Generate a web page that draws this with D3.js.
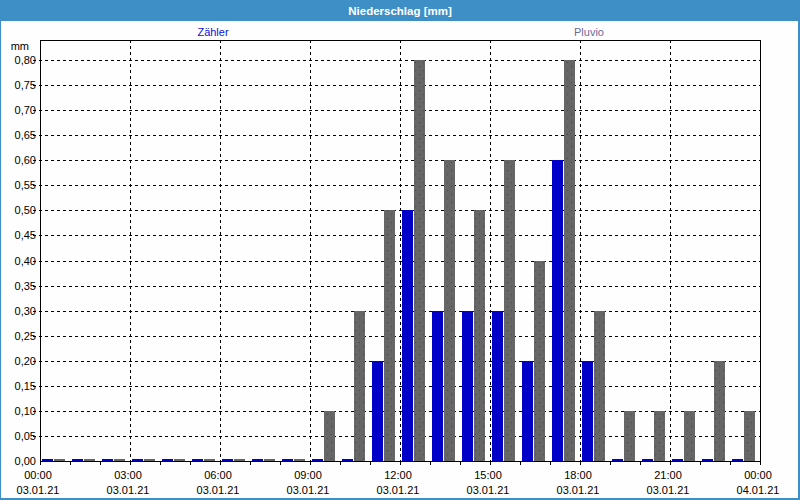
<!DOCTYPE html>
<html><head><meta charset="utf-8">
<script src="https://cdn.jsdelivr.net/npm/d3@7"></script>
<style>
html,body{margin:0;padding:0;background:#fff;}
svg{display:block;font-family:"Liberation Sans",Arial,sans-serif;}
</style></head>
<body>
<svg id="c" width="800" height="500"></svg>
<script>
// hourly slots 00..23 of 03.01.21
const hours = d3.range(0, 24);
const seriesNames = ["Zähler", "Pluvio"];
const zaehler = [0,0,0,0,0,0,0,0,0,0,0,0.20,0.50,0.30,0.30,0.30,0.20,0.60,0.20,0,0,0,0,0];
const pluvio  = [0,0,0,0,0,0,0,0,0,0.10,0.30,0.50,0.80,0.60,0.50,0.60,0.40,0.80,0.30,0.10,0.10,0.10,0.20,0.10];
const yTicks = [0,0.05,0.10,0.15,0.20,0.25,0.30,0.35,0.40,0.45,0.50,0.55,0.60,0.65,0.70,0.75,0.80];
const xTickHours = [0,3,6,9,12,15,18,21,24];
const xTimeLabels = ["00:00","03:00","06:00","09:00","12:00","15:00","18:00","21:00","00:00"];
const xDateLabels = ["03.01.21","03.01.21","03.01.21","03.01.21","03.01.21","03.01.21","03.01.21","03.01.21","04.01.21"];

const svg = d3.select("#c");
const W = 800, H = 500;
const L = 40, R = 760, T = 40, B = 461;

// window frame
svg.append("rect").attr("x",0).attr("y",0).attr("width",W).attr("height",H).attr("fill","#3d8fc6");
svg.append("rect").attr("x",1).attr("y",21).attr("width",W-3).attr("height",H-23).attr("fill","#fdfefd");
svg.append("text").attr("x",W/2).attr("y",15).attr("text-anchor","middle")
  .attr("fill","#fff").attr("font-weight","bold").attr("font-size",11.5).text("Niederschlag [mm]");

const x = d3.scaleLinear().domain([0,24]).range([L,R]);
const y = d3.scaleLinear().domain([0,0.84]).range([B,T]);
const slot = x(1) - x(0);
const inner = d3.scaleBand().domain(seriesNames).range([2, slot-5]).paddingInner(0.09);

// pattern for Pluvio bars
const defs = svg.append("defs");
const pat = defs.append("pattern").attr("id","dots").attr("patternUnits","userSpaceOnUse")
  .attr("width",8).attr("height",8);
pat.append("rect").attr("width",8).attr("height",8).attr("fill","#666666");
pat.append("rect").attr("x",3).attr("y",2).attr("width",1).attr("height",1).attr("fill","#40408a");
pat.append("rect").attr("x",7).attr("y",6).attr("width",1).attr("height",1).attr("fill","#40408a");

// grid
const g = svg.append("g");
g.selectAll("line.h").data(yTicks.filter(d=>d>0)).join("line")
  .attr("x1",L-7).attr("x2",R).attr("y1",d=>Math.round(y(d))+0.5).attr("y2",d=>Math.round(y(d))+0.5)
  .attr("stroke","#000").attr("stroke-dasharray","3,3");
g.selectAll("line.v").data(xTickHours.slice(1,-1)).join("line")
  .attr("x1",d=>Math.round(x(d))+0.5).attr("x2",d=>Math.round(x(d))+0.5).attr("y1",T).attr("y2",B+3)
  .attr("stroke","#000").attr("stroke-dasharray","3,3");

// bars
const bars = svg.append("g");
const colors = {"Zähler":"#0000c8","Pluvio":"url(#dots)"};
const data = [];
hours.forEach((h,i)=>{
  data.push({h, s:"Zähler", v:zaehler[i]});
  data.push({h, s:"Pluvio", v:pluvio[i]});
});
bars.selectAll("rect").data(data).join("rect")
  .attr("x",d=>Math.round(x(d.h)+inner(d.s)))
  .attr("width",Math.round(inner.bandwidth()))
  .attr("y",d=>Math.min(Math.round(y(d.v)), B-2))
  .attr("height",d=>B - Math.min(Math.round(y(d.v)), B-2))
  .attr("fill",d=> d.v===0 ? (d.s==="Zähler"?"#0000c8":"#666666") : colors[d.s]);

// frame
svg.append("rect").attr("x",L+0.5).attr("y",T+0.5).attr("width",R-L).attr("height",B-T)
  .attr("fill","none").attr("stroke","#000");

// x ticks
svg.append("g").selectAll("line").data(d3.range(0,25)).join("line")
  .attr("x1",d=>Math.round(x(d))+0.5).attr("x2",d=>Math.round(x(d))+0.5)
  .attr("y1",B).attr("y2",B+4).attr("stroke","#000");

// y labels
svg.append("g").selectAll("text").data(yTicks).join("text")
  .attr("x",36).attr("y",d=>y(d)+4).attr("text-anchor","end").attr("font-size",11).attr("fill","#000")
  .text(d=>d3.format(".2f")(d).replace(".",","));
svg.append("text").attr("x",29).attr("y",50).attr("text-anchor","end").attr("font-size",11).text("mm");

// x labels
const xl = svg.append("g");
xl.selectAll("text.t").data(xTickHours).join("text")
  .attr("x",d=>x(d)-2).attr("y",479).attr("text-anchor","middle").attr("font-size",11)
  .text((d,i)=>xTimeLabels[i]);
xl.selectAll("text.d").data(xTickHours).join("text").attr("class","d")
  .attr("x",d=>x(d)-2).attr("y",494).attr("text-anchor","middle").attr("font-size",11)
  .text((d,i)=>xDateLabels[i]);

// legend
svg.append("text").attr("x",213).attr("y",36).attr("text-anchor","middle").attr("font-size",11)
  .attr("fill","#1010d8").text(seriesNames[0]);
svg.append("text").attr("x",589).attr("y",36).attr("text-anchor","middle").attr("font-size",11)
  .attr("fill","#6a6a9c").text(seriesNames[1]);
</script>
</body></html>
